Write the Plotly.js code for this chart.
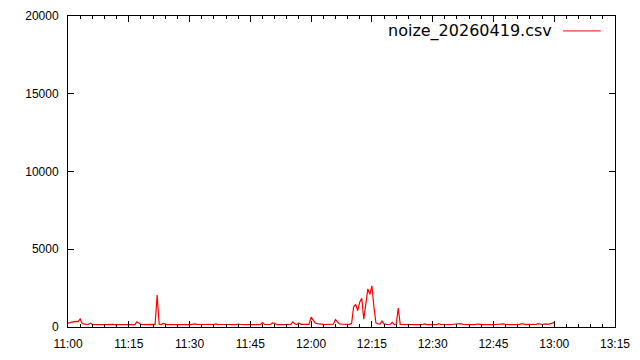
<!DOCTYPE html>
<html>
<head>
<meta charset="utf-8">
<script src="https://cdn.plot.ly/plotly-3.0.1.min.js"></script>
<style>html,body{margin:0;padding:0;background:#fff;}#chart{width:640px;height:360px;}</style>
</head>
<body>
<div id="chart"></div>
<script>
// Sampling: one reading every 30 s starting at 11:00:00
const seriesName = "noize_20260419.csv";
const startTime = "2026-04-19 11:00:00";
const stepSeconds = 30;
const noiseValues = [
  250, 300, 330, 350, 360, 340, 520, 230, 180, 170,   // 11:00
  160, 250, 170, 150, 160, 150, 170, 160, 150, 160,   // 11:05
  150, 160, 170, 150, 160, 180, 150, 160, 150, 170,   // 11:10
  150, 160, 170, 150, 330, 220, 160, 150, 160, 150,   // 11:15
  160, 150, 170, 160, 2050, 180, 160, 230, 170, 150,  // 11:20
  150, 160, 150, 170, 160, 150, 160, 150, 170, 160,   // 11:25
  150, 160, 170, 200, 160, 150, 160, 150, 160, 170,   // 11:30
  160, 150, 160, 200, 150, 160, 170, 160, 150, 160,   // 11:35
  150, 170, 160, 150, 190, 160, 150, 160, 170, 150,   // 11:40
  160, 150, 170, 160, 150, 160, 280, 170, 160, 150,   // 11:45
  160, 270, 240, 150, 160, 170, 150, 160, 150, 170,   // 11:50
  170, 330, 200, 160, 260, 170, 160, 150, 180, 170,   // 11:55
  640, 420, 260, 220, 190, 180, 170, 160, 170, 180,   // 12:00
  170, 180, 480, 320, 200, 180, 170, 160, 180, 170,   // 12:05
  240, 1300, 1450, 1050, 1600, 1850, 500, 1500, 2450, 2100, // 12:10
  2650, 1300, 260, 200, 180, 380, 200, 170, 180, 160, // 12:15
  300, 170, 160, 1220, 170, 160, 150, 170, 160, 150,  // 12:20
  160, 150, 170, 160, 150, 160, 200, 150, 160, 170,   // 12:25
  150, 160, 150, 220, 160, 150, 160, 170, 150, 160,   // 12:30
  170, 160, 150, 160, 210, 160, 150, 160, 170, 150,   // 12:35
  160, 150, 190, 160, 170, 150, 160, 150, 170, 160,   // 12:40
  150, 160, 170, 150, 160, 200, 160, 150, 160, 170,   // 12:45
  160, 150, 170, 160, 220, 160, 150, 170, 160, 180,   // 12:50
  170, 160, 210, 170, 160, 180, 200, 170, 190, 250,   // 12:55
  300                                                 // 13:00
];
const yTicks = [0, 5000, 10000, 15000, 20000];
const xRange = ["2026-04-19 11:00:00", "2026-04-19 13:15:00"];

function pad(n){ return String(n).padStart(2, "0"); }
const t0 = new Date(startTime.replace(" ", "T"));
const times = noiseValues.map((_, i) => {
  const d = new Date(t0.getTime() + i * stepSeconds * 1000);
  return d.getFullYear() + "-" + pad(d.getMonth()+1) + "-" + pad(d.getDate()) + " " +
         pad(d.getHours()) + ":" + pad(d.getMinutes()) + ":" + pad(d.getSeconds());
});

const axisCommon = {
  showline: true, linecolor: "#000", linewidth: 1, mirror: "ticks",
  ticks: "inside", ticklen: 6, tickwidth: 1, tickcolor: "#000",
  showgrid: false, zeroline: false,
  tickfont: {family: "Liberation Sans, Arial, sans-serif", size: 12, color: "#000"}
};

const trace = {
  x: times, y: noiseValues, type: "scatter", mode: "lines",
  name: seriesName, line: {color: "#ff0000", width: 1.2}
};

const layout = {
  width: 640, height: 360,
  margin: {l: 68, r: 25, t: 16, b: 33},
  paper_bgcolor: "#fff", plot_bgcolor: "#fff",
  showlegend: false,
  xaxis: Object.assign({}, axisCommon, {
    type: "date", range: xRange, tickformat: "%H:%M",
    dtick: 15 * 60 * 1000, tick0: "2026-04-19 11:00:00",
    minor: {dtick: 3 * 60 * 1000, ticks: "inside", ticklen: 3, tickcolor: "#000", showgrid: false},
    ticklabelstandoff: 6
  }),
  yaxis: Object.assign({}, axisCommon, {
    range: [0, 20000], tickvals: yTicks, ticktext: yTicks.map(String),
    ticklabelstandoff: 6
  }),
  annotations: [{
    xref: "paper", yref: "paper", x: 0.888, y: 0.952, xanchor: "right", yanchor: "middle",
    text: seriesName, showarrow: false,
    font: {family: "DejaVu Sans, sans-serif", size: 16, color: "#000"}
  }],
  shapes: [{
    type: "line", xref: "paper", yref: "paper", x0: 0.905, x1: 0.974, y0: 0.952, y1: 0.952,
    line: {color: "#ff0000", width: 1}
  }]
};

Plotly.newPlot("chart", [trace], layout, {staticPlot: true, displayModeBar: false});
</script>
</body>
</html>
